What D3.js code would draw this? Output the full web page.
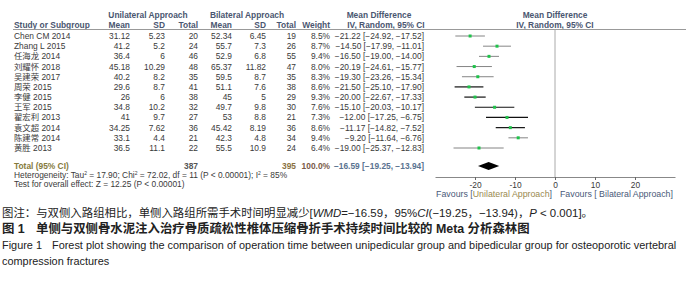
<!DOCTYPE html>
<html>
<head>
<meta charset="utf-8">
<script src="https://cdn.jsdelivr.net/npm/d3@7"></script>
<style>
  body { margin: 0; background: #fff; }
  svg text { font-family: "Liberation Sans", Arial, sans-serif; }
  .cjk { font-family: "Liberation Sans", "Noto Sans CJK SC", sans-serif; }
</style>
</head>
<body>
<div id="chart"></div>
<script>
// 数据
const studies = ["Chen CM 2014", "Zhang L 2015", "任海龙 2014", "刘耀怀 2018", "吴建荣 2017", "周荣 2015",
  "李健 2015", "王军 2015", "翟宏利 2013", "袁文超 2014", "陈建常 2014", "黄胜 2013"];
const uniMean = ["31.12", "41.2", "36.4", "45.18", "40.2", "29.6", "26", "34.8", "41", "34.25", "33.1", "36.5"];
const uniSD = ["5.23", "5.2", "6", "10.29", "8.2", "8.7", "6", "10.2", "9.7", "7.62", "4.4", "11.1"];
const uniN = [20, 24, 46, 48, 35, 41, 38, 32, 27, 36, 21, 22];
const biMean = ["52.34", "55.7", "52.9", "65.37", "59.5", "51.1", "45", "49.7", "53", "45.42", "42.3", "55.5"];
const biSD = ["6.45", "7.3", "6.8", "11.82", "8.7", "7.6", "5", "9.8", "8.8", "8.19", "4.8", "10.9"];
const biN = [19, 26, 55, 47, 35, 38, 29, 30, 21, 36, 34, 24];
const weights = ["8.5%", "8.7%", "9.4%", "8.0%", "8.3%", "8.6%", "9.3%", "7.6%", "7.3%", "8.6%", "9.4%", "6.4%"];
const md = [-21.22, -14.50, -16.50, -20.19, -19.30, -21.50, -20.00, -15.10, -12.00, -11.17, -9.20, -19.00];
const lo = [-24.92, -17.99, -19.00, -24.61, -23.26, -25.10, -22.67, -20.03, -17.25, -14.82, -11.64, -25.37];
const hi = [-17.52, -11.01, -14.00, -15.77, -15.34, -17.90, -17.33, -10.17, -6.75, -7.52, -6.76, -12.83];
const total = { uniN: 387, biN: 395, weight: "100.0%", md: -16.59, lo: -19.25, hi: -13.94 };
const ticks = [-20, -10, 0, 10, 20];

const width = 700, height = 282;
const svg = d3.select("#chart").append("svg")
  .attr("width", width)
  .attr("height", height);

const fs = 8.4;
const txt = "#3a3a3a";
const head = "#4a5670";

// 行位置
const y = d3.scalePoint()
  .domain(d3.range(studies.length))
  .range([36, 148]);

// 森林图横轴
const x = d3.scaleLinear()
  .domain([-30, 30])
  .range([435, 675]);

const fmt = d3.format(".2f");
const ci = (m, l, h) => `${fmt(m)} [${fmt(l)}, ${fmt(h)}]`;

// 表头
const g = svg.append("g");
function label(xp, yp, s, anchor, opts = {}) {
  return g.append("text")
    .attr("x", xp).attr("y", yp)
    .attr("text-anchor", anchor || "start")
    .attr("font-size", opts.size || fs)
    .attr("font-weight", opts.bold ? "bold" : "normal")
    .attr("fill", opts.color || txt)
    .attr("class", opts.cls || null)
    .text(s);
}
label(148, 18, "Unilateral Approach", "middle", { color: head, bold: true });
label(247, 18, "Bilateral Approach", "middle", { color: head, bold: true });
label(379, 18, "Mean Difference", "middle", { color: head, bold: true });
label(555, 18, "Mean Difference", "middle", { color: head, bold: true });
label(14, 28, "Study or Subgroup", "start", { color: head, bold: true });
label(130, 28, "Mean", "end", { color: head, bold: true });
label(165, 28, "SD", "end", { color: head, bold: true });
label(198, 28, "Total", "end", { color: head, bold: true });
label(232, 28, "Mean", "end", { color: head, bold: true });
label(266, 28, "SD", "end", { color: head, bold: true });
label(296, 28, "Total", "end", { color: head, bold: true });
label(330, 28, "Weight", "end", { color: head, bold: true });
label(386, 28, "IV, Random, 95% CI", "middle", { color: head, bold: true });
label(555, 28, "IV, Random, 95% CI", "middle", { color: head, bold: true });

svg.append("line")
  .attr("x1", 13).attr("x2", 686)
  .attr("y1", 29.5).attr("y2", 29.5)
  .attr("stroke", "#999").attr("stroke-width", 1);

// 研究行
const rows = svg.append("g").selectAll("g")
  .data(studies)
  .join("g")
  .attr("transform", (d, i) => `translate(0,${y(i) + 3})`);

const cols = [
  { x: 14, a: "start", f: (d, i) => d, cls: "cjk" },
  { x: 130, a: "end", f: (d, i) => uniMean[i] },
  { x: 165, a: "end", f: (d, i) => uniSD[i] },
  { x: 198, a: "end", f: (d, i) => uniN[i] },
  { x: 232, a: "end", f: (d, i) => biMean[i] },
  { x: 266, a: "end", f: (d, i) => biSD[i] },
  { x: 296, a: "end", f: (d, i) => biN[i] },
  { x: 330, a: "end", f: (d, i) => weights[i] },
  { x: 424, a: "end", f: (d, i) => ci(md[i], lo[i], hi[i]) }
];
cols.forEach(c => {
  rows.append("text")
    .attr("x", c.x)
    .attr("text-anchor", c.a)
    .attr("font-size", fs)
    .attr("fill", txt)
    .attr("class", c.cls || null)
    .text(c.f);
});

// 零线
svg.append("line")
  .attr("x1", x(0)).attr("x2", x(0))
  .attr("y1", 29.5).attr("y2", 177)
  .attr("stroke", "#aaa").attr("stroke-width", 1);

// 置信区间和方块
const dark = new Set([5, 6, 7, 8, 9]);
const marks = svg.append("g").selectAll("g")
  .data(studies)
  .join("g");
marks.append("line")
  .attr("x1", (d, i) => x(lo[i]))
  .attr("x2", (d, i) => x(hi[i]))
  .attr("y1", (d, i) => y(i))
  .attr("y2", (d, i) => y(i))
  .attr("stroke", (d, i) => dark.has(i) ? "#111" : "#777")
  .attr("stroke-width", (d, i) => dark.has(i) ? 1.2 : 0.9);
marks.append("rect")
  .attr("x", (d, i) => x(md[i]) - 1.5)
  .attr("y", (d, i) => y(i) - 1.5)
  .attr("width", 3).attr("height", 3)
  .attr("fill", "#1fc24a");

// 合计
const ty = 166;
label(14, ty + 3, "Total (95% CI)", "start", { color: "#857a3c", bold: true });
label(198, ty + 3, total.uniN, "end", { color: "#555", bold: true });
label(296, ty + 3, total.biN, "end", { color: "#8a7040", bold: true });
label(330, ty + 3, total.weight, "end", { color: "#7a5a48", bold: true });
label(424, ty + 3, ci(total.md, total.lo, total.hi), "end", { color: "#5a7390", bold: true });

svg.append("path")
  .attr("d", `M${x(total.lo)},${ty} L${x(total.md)},${ty - 4} L${x(total.hi)},${ty} L${x(total.md)},${ty + 4} Z`)
  .attr("fill", "#000");

const het = g.append("text").attr("x", 14).attr("y", 178).attr("font-size", fs).attr("fill", txt);
het.append("tspan").text("Heterogeneity: Tau");
het.append("tspan").attr("baseline-shift", "super").attr("font-size", 5).text("2");
het.append("tspan").text(" = 17.90; Chi");
het.append("tspan").attr("baseline-shift", "super").attr("font-size", 5).text("2");
het.append("tspan").text(" = 72.02, df = 11 (P < 0.00001); I");
het.append("tspan").attr("baseline-shift", "super").attr("font-size", 5).text("2");
het.append("tspan").text(" = 85%");
label(14, 187, "Test for overall effect: Z = 12.25 (P < 0.00001)", "start");

// 横轴
const axis = svg.append("g")
  .attr("transform", "translate(0,177)")
  .call(d3.axisBottom(x).tickValues(ticks).tickSize(3).tickSizeOuter(0));
axis.select(".domain").attr("stroke", "#888");
axis.selectAll(".tick line").attr("stroke", "#666");
axis.selectAll(".tick text").attr("font-size", fs).attr("fill", txt).attr("dy", "0.55em")
  .text(d => d);

const fav1 = g.append("text").attr("x", 552).attr("y", 197).attr("text-anchor", "end").attr("font-size", 8.8);
fav1.append("tspan").attr("fill", "#4a5a78").text("Favours [");
fav1.append("tspan").attr("fill", "#9a8a50").text("Unilateral Approach");
fav1.append("tspan").attr("fill", "#4a5a78").text("]");
const fav2 = g.append("text").attr("x", 560).attr("y", 197).attr("font-size", 8.8);
fav2.append("tspan").attr("fill", "#4a5a78").text("Favours [");
fav2.append("tspan").attr("fill", "#4a5a78").text(" Bilateral Approach]");

// 图注
const cap = svg.append("g").attr("class", "cjk").attr("fill", "#222");
const c1 = cap.append("text").attr("x", 2).attr("y", 217).attr("font-size", 11.4).attr("class", "cjk");
c1.append("tspan").text("图注：与双侧入路组相比，单侧入路组所需手术时间明显减少[");
c1.append("tspan").attr("font-style", "italic").text("WMD");
c1.append("tspan").text("=−16.59，95%");
c1.append("tspan").attr("font-style", "italic").text("CI");
c1.append("tspan").text("(−19.25，−13.94)，");
c1.append("tspan").attr("font-style", "italic").text("P");
c1.append("tspan").text(" < 0.001]。");
const c2 = cap.append("text").attr("x", 2).attr("y", 233).attr("font-size", 12.4).attr("font-weight", "bold")
  .attr("class", "cjk");
c2.append("tspan").text("图 1");
c2.append("tspan").attr("x", 36).text("单侧与双侧骨水泥注入治疗骨质疏松性椎体压缩骨折手术持续时间比较的 Meta 分析森林图");
const c3 = cap.append("text").attr("x", 2).attr("y", 249).attr("font-size", 10.9);
c3.append("tspan").text("Figure 1");
c3.append("tspan").attr("x", 52).text("Forest plot showing the comparison of operation time between unipedicular group and bipedicular group for osteoporotic vertebral");
cap.append("text").attr("x", 2).attr("y", 265).attr("font-size", 10.9)
  .text("compression fractures");
</script>
</body>
</html>
